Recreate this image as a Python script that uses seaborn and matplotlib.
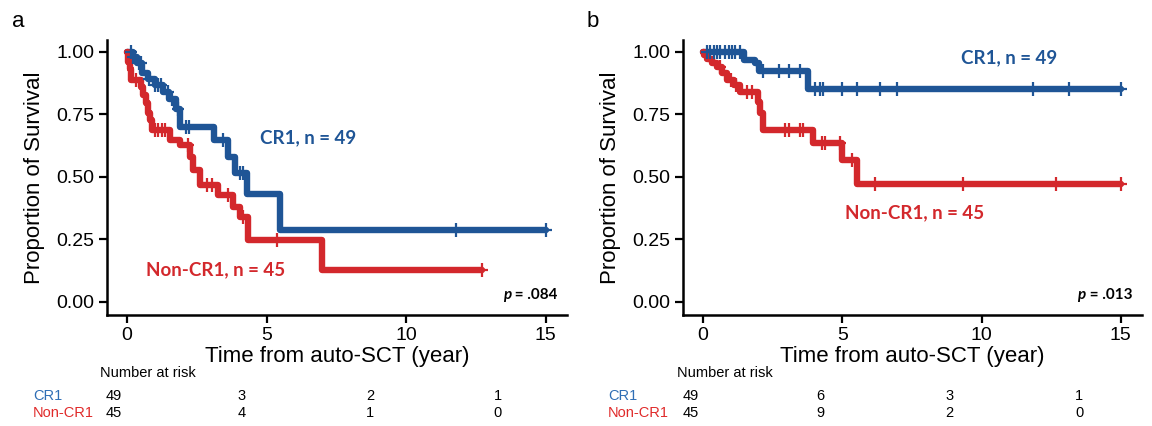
import numpy as np
import pandas as pd
import matplotlib
matplotlib.use("Agg")
import matplotlib.pyplot as plt
import seaborn as sns

# ---------------- data ----------------
groups = ["CR1", "Non-CR1"]

# Panel a : step times (years) and survival after each step, censor times
a_cr1_t = [0, 0.2, 0.35, 0.55, 0.75, 1.0, 1.3, 1.5, 1.75, 1.9, 3.1, 3.6, 3.85, 4.28, 5.48, 15.0]
a_cr1_s = [1.0, 0.98, 0.955, 0.915, 0.89, 0.865, 0.84, 0.81, 0.77, 0.70, 0.647, 0.58, 0.513, 0.433, 0.287, 0.287]
a_cr1_c = [0.15, 0.22, 0.28, 0.42, 0.5, 0.8, 1.0, 1.12, 1.23, 1.47, 1.6, 1.83, 2.1, 2.2, 3.44, 4.04, 4.16, 11.8, 15.0]

a_non_t = [0, 0.05, 0.1, 0.15, 0.51, 0.57, 0.69, 0.75, 0.81, 0.91, 1.53, 1.89, 2.25, 2.37, 2.61, 3.27, 3.8, 4.04, 4.34, 6.97, 12.7]
a_non_s = [1.0, 0.96, 0.93, 0.887, 0.86, 0.827, 0.793, 0.753, 0.727, 0.687, 0.647, 0.627, 0.58, 0.527, 0.467, 0.427, 0.38, 0.34, 0.247, 0.127, 0.127]
a_non_c = [0.33, 1.0, 1.12, 1.24, 1.35, 2.19, 2.85, 3.03, 3.62, 4.16, 5.36, 12.7]

# Panel b
b_cr1_t = [0, 1.46, 1.87, 2.0, 3.78, 15.0]
b_cr1_s = [1.0, 0.967, 0.953, 0.924, 0.851, 0.851]
b_cr1_c = [0.14, 0.26, 0.38, 0.5, 0.62, 0.8, 0.92, 1.04, 1.16, 1.34, 2.17, 2.71, 3.07, 3.48,
           4.02, 4.2, 4.32, 4.98, 5.51, 6.35, 6.95, 11.83, 13.14, 15.0]

b_non_t = [0, 0.02, 0.14, 0.32, 0.5, 0.68, 0.86, 1.1, 1.34, 1.99, 2.05, 2.15, 3.96, 5.0, 5.51, 15.0]
b_non_s = [1.0, 0.987, 0.97, 0.953, 0.94, 0.913, 0.887, 0.867, 0.84, 0.80, 0.753, 0.687, 0.633, 0.567, 0.47, 0.47]
b_non_c = [0.6, 1.0, 1.2, 1.58, 1.75, 2.95, 3.07, 3.48, 3.6, 4.26, 4.38, 4.92, 5.33, 6.17, 9.34, 12.66, 15.0]

risk_times = [0, 5, 10, 15]
a_risk_cr1 = [49, 3, 2, 1]
a_risk_non = [45, 4, 1, 0]
b_risk_cr1 = [49, 6, 3, 1]
b_risk_non = [45, 9, 2, 0]

labels_ann = ["CR1, n = 49", "Non-CR1, n = 45"]
p_a = ".084"
p_b = ".013"

x_ticks = [0, 5, 10, 15]
y_ticks = [0.0, 0.25, 0.5, 0.75, 1.0]

# ---------------- style ----------------
sns.set_style("ticks")
plt.rcParams["font.family"] = ["Liberation Sans", "DejaVu Sans"]
plt.rcParams["text.color"] = "black"
plt.rcParams["axes.labelcolor"] = "black"

BLUE = "#1F5596"
RED = "#D3282C"
BLUE_T = "#2F6EB5"
RED_T = "#E02A2A"
ANN_FONT = ["Lato", "DejaVu Sans"]

W, H = 1152, 426
fig = plt.figure(figsize=(W / 100, H / 100), dpi=100)


def px_axes(l, t, r, b):
    return fig.add_axes([l / W, 1 - b / H, (r - l) / W, (b - t) / H])


def to_data(xp, yp, x0):
    return ((xp - x0) / 27.93, (301.7 - yp) / 250.0)


def draw_panel(ax, curves, ann):
    frames = []
    for g, (t, s, c) in zip(groups, curves):
        frames.append(pd.DataFrame({"time": t, "surv": s, "group": g}))
    df = pd.concat(frames, ignore_index=True)
    sns.lineplot(data=df, x="time", y="surv", hue="group", hue_order=groups,
                 palette=[BLUE, RED], estimator=None, sort=False,
                 drawstyle="steps-post", linewidth=4.6, legend=False, ax=ax)
    for (t, s, c), col in zip(curves, [BLUE, RED]):
        t_arr = np.asarray(t)
        s_arr = np.asarray(s)
        idx = np.searchsorted(t_arr, np.asarray(c), side="right") - 1
        cs = s_arr[np.clip(idx, 0, len(s_arr) - 1)]
        ax.plot(c, cs, linestyle="none", marker="|", markersize=10,
                markeredgewidth=1.6, color=col)
        ax.plot(c, cs, linestyle="none", marker="_", markersize=9,
                markeredgewidth=1.6, color=col)
    ax.set_xlim(-0.72, 15.76)
    ax.set_ylim(-0.053, 1.047)
    ax.set_xticks(x_ticks)
    ax.set_yticks(y_ticks)
    ax.set_yticklabels([f"{v:.2f}" for v in y_ticks])
    ax.tick_params(axis="both", labelsize=14, width=1.6, length=6, pad=3,
                   color="black", labelcolor="black")
    sns.despine(ax=ax)
    for sp in ["left", "bottom"]:
        ax.spines[sp].set_linewidth(1.8)
        ax.spines[sp].set_color("black")
    ax.set_xlabel("Time from auto-SCT (year)", fontsize=16, labelpad=1, color="black")
    ax.set_ylabel("Proportion of Survival", fontsize=16, labelpad=8, color="black")
    for (txt, xy), col in zip(ann, [BLUE, RED]):
        ax.text(xy[0], xy[1], txt, color=col, fontsize=13.5, fontweight="bold",
                family=ANN_FONT, ha="center", va="center")


def draw_p(ax, pstr, x_right_px, x0):
    xr, yv = to_data(x_right_px, 295, x0)
    t = ax.text(xr, yv, f" = {pstr}", fontsize=11, fontweight="bold",
                family=ANN_FONT, ha="right", va="center", color="black")
    fig.canvas.draw()
    bb = t.get_window_extent()
    xl = ax.transData.inverted().transform((bb.x0, bb.y0))[0]
    ax.text(xl, yv, "p", fontsize=11, fontweight="bold", style="italic",
            family=ANN_FONT, ha="right", va="center", color="black")


axA = px_axes(107, 40, 567, 315)
axB = px_axes(683, 40, 1142, 315)

curvesA = [(a_cr1_t, a_cr1_s, a_cr1_c), (a_non_t, a_non_s, a_non_c)]
curvesB = [(b_cr1_t, b_cr1_s, b_cr1_c), (b_non_t, b_non_s, b_non_c)]

annA = list(zip(labels_ann, [to_data(308, 138, 127.3), to_data(216, 270, 127.3)]))
annB = list(zip(labels_ann, [to_data(1010, 58, 702.7), to_data(915, 213, 702.7)]))

draw_panel(axA, curvesA, annA)
draw_panel(axB, curvesB, annB)
draw_p(axA, p_a, 558, 127.3)
draw_p(axB, p_b, 1133, 702.7)

# panel letters
fig.text(12 / W, 1 - 27 / H, "a", fontsize=16, va="baseline", ha="left", color="black")
fig.text(587 / W, 1 - 27 / H, "b", fontsize=16, va="baseline", ha="left", color="black")


# risk tables
def risk_table(x0_px, x15_px, lab_px, nar_px, r1, r2):
    tax = fig.add_axes([x0_px / W, 0.0, (x15_px - x0_px) / W, 0.2])
    tax.set_xlim(0, 15)
    tax.set_ylim(0, H * 0.2)
    tax.axis("off")
    y1 = H - 396
    y2 = H - 413
    for t, v1, v2 in zip(risk_times, r1, r2):
        tax.text(t, y1, str(v1), ha="center", va="center", fontsize=10.5, color="black")
        tax.text(t, y2, str(v2), ha="center", va="center", fontsize=10.5, color="black")
    fig.text(nar_px / W, 1 - 373 / H, "Number at risk", fontsize=10.5, ha="left",
             va="center", color="black")
    fig.text(lab_px / W, 1 - 396 / H, groups[0], fontsize=10.5, ha="left", va="center", color=BLUE_T)
    fig.text(lab_px / W, 1 - 413 / H, groups[1], fontsize=10.5, ha="left", va="center", color=RED_T)


risk_table(114, 498, 33, 100, a_risk_cr1, a_risk_non)
risk_table(691, 1079, 608, 677, b_risk_cr1, b_risk_non)

fig.savefig("out.png", dpi=100)
